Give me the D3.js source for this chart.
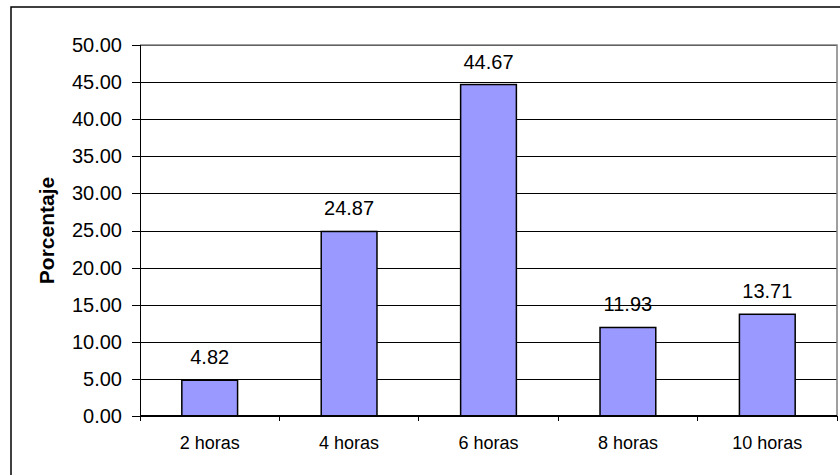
<!DOCTYPE html>
<meta charset="utf-8">
<style>
body { margin: 0; background: #fff; }
svg { display: block; font-family: "Liberation Sans", Arial, sans-serif; }
.axis text { font-size: 20px; fill: #000; }
.axis--x text { font-size: 18px; }
.axis path, .axis line { stroke: #000; shape-rendering: crispEdges; }
.grid line { stroke: #000; shape-rendering: crispEdges; }
.grid path { display: none; }
.bar { fill: #9999ff; stroke: #000; stroke-width: 1.5px; }
.value { font-size: 20px; fill: #000; text-anchor: middle; }
.title { font-size: 21px; font-weight: bold; text-anchor: middle; }
</style>
<body>
<div id="chart"></div>
<script src="https://d3js.org/d3.v7.min.js"></script>
<script>
var categories = ["2 horas", "4 horas", "6 horas", "8 horas", "10 horas"];
var values = [4.82, 24.87, 44.67, 11.93, 13.71];
var yTicks = [0, 5, 10, 15, 20, 25, 30, 35, 40, 45, 50];

var W = 840, H = 475,
    margin = { top: 45, right: 3, bottom: 59, left: 140 },
    width = W - margin.left - margin.right,
    height = H - margin.top - margin.bottom;

var svg = d3.select("#chart").append("svg")
    .attr("width", W)
    .attr("height", H);

// outer frame (runs off right/bottom edge)
svg.append("rect")
    .attr("x", 11).attr("y", 7)
    .attr("width", W + 10).attr("height", H + 10)
    .attr("fill", "none").attr("stroke", "#000").attr("stroke-width", 1.5);

var g = svg.append("g")
    .attr("transform", "translate(" + margin.left + "," + margin.top + ")");

var x = d3.scaleBand().domain(categories).range([0, width]).paddingInner(0.6).paddingOuter(0.3);
var band = d3.scaleBand().domain(categories).range([0, width]);
var y = d3.scaleLinear().domain([0, 50]).range([height, 0]);

// gridlines
g.append("g")
    .attr("class", "grid")
    .call(d3.axisLeft(y).tickValues(yTicks.slice(1)).tickSize(-width).tickFormat(""));

// plot border right/top
g.append("path")
    .attr("d", "M0,0H" + width + "V" + height)
    .attr("fill", "none").attr("stroke", "#808080").attr("stroke-width", 1.5);

g.selectAll(".bar")
    .data(values)
    .enter().append("rect")
    .attr("class", "bar")
    .attr("x", function(d, i) { return x(categories[i]); })
    .attr("y", function(d) { return y(d); })
    .attr("width", x.bandwidth())
    .attr("height", function(d) { return height - y(d); });

g.selectAll(".value")
    .data(values)
    .enter().append("text")
    .attr("class", "value")
    .attr("x", function(d, i) { return x(categories[i]) + x.bandwidth() / 2; })
    .attr("y", function(d) { return y(d) - 16; })
    .text(function(d) { return d.toFixed(2); });

// y axis
g.append("g")
    .attr("class", "axis axis--y")
    .call(d3.axisLeft(y).tickValues(yTicks).tickSize(8).tickPadding(10).tickFormat(d3.format(".2f")))
    .select(".domain").attr("stroke", "#555").attr("stroke-width", 1.5);

// x axis: ticks on band boundaries
var xAxis = g.append("g")
    .attr("class", "axis axis--x")
    .attr("transform", "translate(0," + height + ")");
xAxis.append("line").attr("x1", 0).attr("x2", width).attr("stroke", "#000").attr("stroke-width", 1.5);
xAxis.selectAll(".bt")
    .data(categories.concat(["end"]))
    .enter().append("line")
    .attr("class", "bt")
    .attr("x1", function(d, i) { return i * band.step(); })
    .attr("x2", function(d, i) { return i * band.step(); })
    .attr("y1", 0).attr("y2", 5);
xAxis.selectAll(".lab")
    .data(categories)
    .enter().append("text")
    .attr("class", "lab")
    .attr("x", function(d) { return band(d) + band.bandwidth() / 2; })
    .attr("y", 33)
    .attr("text-anchor", "middle")
    .text(function(d) { return d; });

svg.append("text")
    .attr("class", "title")
    .attr("transform", "translate(54," + (margin.top + height / 2) + ") rotate(-90)")
    .text("Porcentaje");
</script>
</body>
